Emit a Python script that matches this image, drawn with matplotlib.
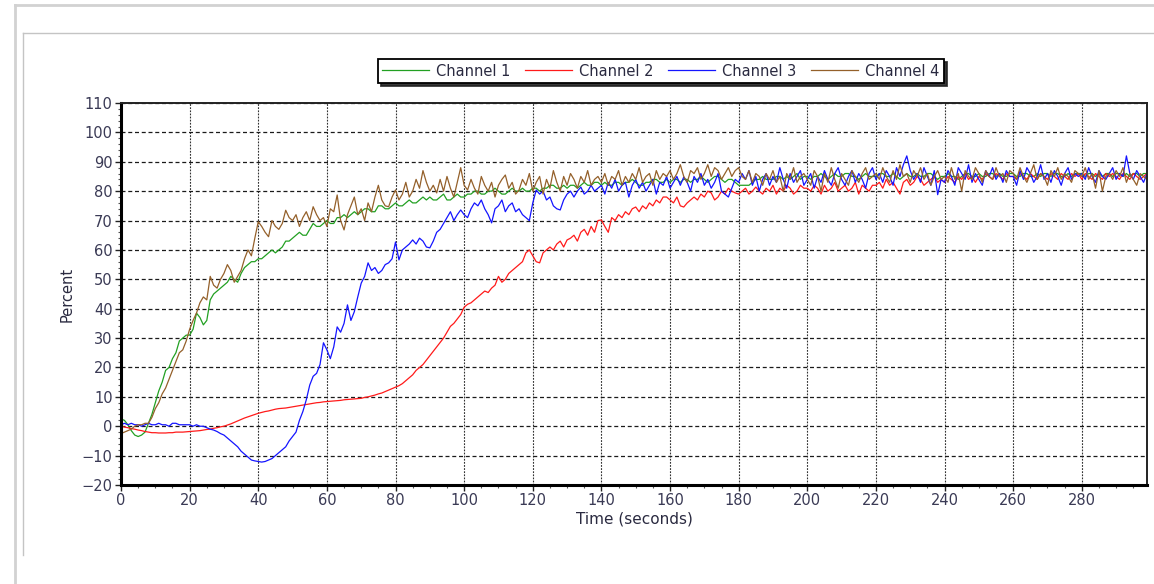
import numpy as np
import matplotlib.pyplot as plt
from matplotlib.lines import Line2D
from matplotlib.ticker import MultipleLocator

# one reading per second, 0..299 s
t = np.arange(300)

channel_1 = [
    2.5, 2, 0.5, -1.5, -3, -3.5, -3, -2, 1, 4, 8, 12, 15, 19, 20, 23, 25, 29, 30, 31,
    31, 33, 38.5, 37, 34.5, 36, 43, 45, 46, 47, 48, 49, 51, 50, 49, 52, 54, 55, 56, 56,
    57, 57, 58, 59, 60, 59, 60, 61, 63, 63, 64, 65, 66, 65, 65, 67, 69, 68, 68, 69,
    70, 69, 69, 71, 71, 72, 71, 72, 73, 72, 73, 74, 74, 73, 73, 75, 75, 74, 74, 75,
    76, 75, 75, 76, 77, 76, 76, 77, 78, 77, 78, 77, 77, 78, 79, 77, 77, 78, 79, 78,
    78, 79, 79, 80, 80, 79, 79, 80, 80, 81, 80, 79, 79, 80, 81, 80, 80, 81, 80, 80,
    81, 81, 80, 81, 81, 82, 82, 81, 81, 82, 81, 82, 82, 81, 82, 83, 82, 82, 83, 83,
    82, 83, 82, 82, 83, 83, 82, 83, 83, 84, 83, 82, 82, 83, 83, 84, 84, 83, 83, 84,
    83, 84, 84, 83, 84, 84, 83, 84, 84, 85, 84, 83, 84, 85, 85, 84, 83, 84, 84, 83,
    82, 82, 82, 82, 83, 84, 84, 85, 84, 84, 84, 85, 85, 84, 85, 84, 85, 86, 84, 85,
    85, 84, 85, 85, 86, 85, 84, 85, 86, 85, 85, 86, 86, 85, 85, 84, 85, 86, 85, 85,
    85, 86, 86, 85, 85, 86, 85, 84, 85, 86, 85, 85, 86, 85, 85, 86, 86, 85, 84, 85,
    85, 86, 85, 85, 84, 85, 86, 86, 85, 85, 86, 85, 85, 86, 86, 85, 86, 85, 85, 86,
    86, 85, 85, 86, 86, 85, 85, 86, 85, 86, 86, 85, 86, 86, 85, 85, 86, 85, 86, 86,
    86, 85, 86, 86, 85, 86, 85, 86, 86, 85, 86, 86, 85, 86, 85, 86, 86, 85, 86, 86,
]

channel_2 = [
    0, -0.3, -0.5, -0.8, -1, -1.3, -1.5, -1.8, -2, -2.2, -2.2, -2.3, -2.3, -2.3, -2.2, -2.2, -2, -2, -2, -1.9,
    -1.8, -1.7, -1.6, -1.5, -1.3, -1.1, -1, -0.7, -0.5, -0.2, 0, 0.4, 0.8, 1.3, 1.8, 2.3, 2.8, 3.2, 3.6, 4,
    4.4, 4.7, 5, 5.2, 5.5, 5.8, 6, 6.1, 6.2, 6.4, 6.6, 6.8, 7, 7.2, 7.4, 7.6, 7.8, 8, 8.1, 8.3,
    8.4, 8.5, 8.6, 8.7, 8.8, 9, 9.1, 9.2, 9.3, 9.4, 9.5, 9.8, 10, 10.3, 10.6, 11, 11.3, 11.8, 12.3, 12.8,
    13.3, 13.8, 14.5, 15.5, 16.5, 17.5, 19, 20, 21, 22.5, 24, 25.5, 27, 28.5, 30, 32, 34, 35, 36.5, 38,
    40.5, 41.5, 42, 43, 44, 45, 46, 45.5, 47, 48, 51, 49, 50, 52, 53, 54, 55, 56, 59, 60,
    58, 56, 55.6, 59, 60, 61, 60, 62, 63, 61, 63.4, 64, 65, 63, 66, 67, 65, 68, 66, 70,
    70.2, 68, 66, 71, 70, 72, 71, 73, 72, 74, 74.6, 73, 75, 74, 76, 75, 77, 76, 78, 78,
    77, 76, 78, 75, 74.6, 76, 77, 78, 77, 79, 78, 80, 79.4, 77, 78, 80, 79, 81, 80, 79.4,
    79, 80, 81, 79, 80, 81.4, 80, 79, 81, 80, 82, 79, 81, 80, 82, 81, 79, 80, 82, 81,
    81, 80, 82, 81, 79, 82, 80, 81, 83, 80, 81, 82, 80, 81, 83, 79, 82, 81, 80, 82,
    82, 83, 81, 84, 82, 83, 81, 79, 83, 84, 82, 83, 85, 84, 82, 83, 84, 85, 83, 84,
    83, 85, 84, 83, 85, 84, 86, 84, 85, 83, 85, 84, 86, 85, 84, 86, 85, 84, 86, 85,
    85, 84, 86, 85, 84, 86, 85, 84, 86, 85, 84, 86, 85, 84, 86, 85, 84, 86, 85, 86,
    84, 86, 85, 84, 86, 85, 84, 86, 85, 86, 85, 84, 86, 85, 84, 86, 85, 84, 85, 86,
]

channel_3 = [
    0.5, 1, 0.5, 1, 0.5, 0.5, 0, 0.5, 1, 0.5, 0.5, 1, 0.5, 0.5, 0, 1, 1, 0.5, 0.5, 0.5,
    0.5, 0, 0.5, 0, 0, -0.5, -1, -1.3, -1.8, -2.5, -3, -4, -5, -6, -7, -8.5, -9.5, -10.5, -11.5, -11.8,
    -12, -12.2, -12, -11.5, -11, -10, -9, -8, -7, -5, -3.5, -2, 2, 5, 9, 14, 17, 18, 21, 28.4,
    26, 23, 27, 33.8, 32, 35, 41.3, 36, 39, 44, 48.7, 51, 55.6, 53, 54, 52, 53, 55, 55.6, 57,
    62.7, 56.6, 60, 61, 62, 63.4, 62, 64, 63, 61, 60.7, 63, 66, 67, 69, 71, 73, 70, 72, 73.6,
    72, 71, 74, 76, 75, 77, 74, 72, 69.2, 74, 75, 77, 73, 75, 76, 73, 74, 72, 71, 70,
    76, 80.4, 79, 80, 77, 78, 75, 74, 73.6, 77, 79, 80, 78, 80, 81.4, 79, 80, 82, 80, 81,
    82, 79, 83, 81, 84, 80, 82, 83, 78, 82, 84, 81, 83, 80, 82, 84, 79, 83, 82, 85,
    81, 83, 85, 82, 84.8, 83, 80, 85, 83, 86, 82, 84, 81, 83, 86, 80, 79, 78, 81, 84,
    83, 86, 84, 87, 82, 85, 80, 84, 86, 82, 85, 83, 88, 84, 81, 86, 83, 85, 87, 82,
    84, 86, 81, 85, 83, 87, 84, 82, 86, 88, 84, 82, 85, 87, 83, 86, 84, 81, 86, 88,
    84, 86, 83, 87, 85, 82, 88, 85, 89, 92, 87, 84, 86, 83, 88, 85, 82, 87, 78.8, 84,
    83, 87, 85, 82, 88, 86, 84, 89, 83, 86, 84, 82, 87, 85, 88, 84, 86, 83, 87, 85,
    85, 82, 87, 84, 88, 86, 83, 85, 89, 84, 86, 83, 87, 85, 82, 86, 88, 84, 86, 85,
    86, 84, 88, 85, 83, 87, 85, 84, 86, 88, 84, 86, 85, 92, 86, 84, 87, 85, 83, 86,
]

channel_4 = [
    -2.5, -2, -1.5, -1, 0, 0.5, 0.5, 1, 1, 3, 6, 8, 11, 13, 16, 19, 22, 25, 26, 29,
    33, 36, 38.5, 42, 44, 43, 51, 48, 47, 50, 52, 55, 53, 49, 51, 53, 57, 60, 58, 64,
    69.6, 68, 66, 64.5, 70, 68, 67, 69, 73.5, 71, 70, 72, 68, 71, 73, 70, 74.7, 72, 70, 71,
    68, 74, 73, 78.7, 70, 66.8, 72, 75, 78, 72, 74, 70, 76, 73, 78, 82, 77, 75, 74.7, 78,
    80.4, 77, 79, 83, 78, 80, 84, 81, 87, 83, 80, 82, 79.4, 84, 80, 85, 81, 78, 83, 88,
    82, 80.4, 84, 81, 79, 85, 82, 80, 83, 78, 82, 84, 85.5, 81, 83, 79, 80.4, 84, 82, 86,
    80, 83, 85, 79, 84, 81, 87, 83, 80, 85, 82, 86, 84, 81, 85, 83, 87, 82, 84, 85,
    83, 86, 82, 85, 84, 87, 82, 85, 83, 86, 84, 88, 83, 85, 86, 82, 87, 84, 86, 85,
    87, 84, 86, 89, 85, 83, 87, 86, 88, 84, 86, 89, 85, 88, 87, 84, 86, 88, 85, 87,
    88, 85, 84, 87, 83, 86, 85, 82, 86, 84, 87, 83, 85, 80, 86, 84, 88, 83, 85, 86,
    84, 82, 87, 85, 80, 86, 83, 88, 84, 81, 86, 84, 82, 87, 85, 83, 86, 88, 84, 85,
    86, 84, 88, 85, 83, 87, 84, 89, 85, 86, 83, 87, 85, 88, 84, 86, 82, 85, 87, 84,
    85, 83, 88, 84, 86, 80, 87, 85, 84, 88, 86, 83, 87, 85, 84, 88, 85, 86, 83, 87,
    86, 84, 88, 85, 83, 86, 89, 84, 86, 85, 82, 87, 85, 88, 84, 86, 85, 83, 87, 86,
    85, 88, 84, 86, 81, 87, 80, 85, 86, 84, 87, 85, 88, 83, 86, 84, 82, 86, 85, 84,
]

names = ['Channel 1', 'Channel 2', 'Channel 3', 'Channel 4']
colors = ['#22a022', '#ff1a1a', '#1414ff', '#94602a']

W, H = 1154, 584
fig = plt.figure(figsize=(W / 100, H / 100), dpi=100)
fig.patch.set_facecolor('white')


def px(x, y):
    return x / W, 1 - y / H


# window frame around the chart panel
for (x0, y0), (x1, y1), c, lw in [
    ((15, 5), (W, 5), '#d2d2d2', 2.0),
    ((15, 5), (15, H), '#d2d2d2', 2.0),
    ((23, 33), (W, 33), '#c4c4c4', 1.0),
    ((23, 33), (23, 555), '#c4c4c4', 1.0),
]:
    a, b = px(x0, y0)
    c2, d = px(x1, y1)
    fig.add_artist(Line2D([a, c2], [b, d], color=c, lw=lw, transform=fig.transFigure))

left, right, top, bottom = 121, 1147, 103, 485
ax = fig.add_axes([left / W, 1 - bottom / H, (right - left) / W, (bottom - top) / H])

for vals, name, col in zip([channel_1, channel_2, channel_3, channel_4], names, colors):
    ax.plot(t, vals, color=col, lw=0.9, label=name)

ax.set_xlim(0, 299)
ax.set_ylim(-20, 110)
ax.xaxis.set_major_locator(MultipleLocator(20))
ax.xaxis.set_minor_locator(MultipleLocator(5))
ax.yaxis.set_major_locator(MultipleLocator(10))
ax.yaxis.set_minor_locator(MultipleLocator(2))

ax.grid(True, axis='y', which='major', color='#1a1a1a', lw=0.9, linestyle=(0, (3.2, 2.2)))
ax.grid(True, axis='x', which='major', color='#333333', lw=0.8, linestyle=(0, (1.6, 1.2)))

ax.tick_params(which='major', direction='out', length=4, width=1, colors='#222222',
               labelsize=10.5, labelcolor='#3a3a55', pad=2)
ax.tick_params(which='minor', direction='out', length=2.5, width=0.8, colors='#555555')

for side in ['left', 'bottom']:
    ax.spines[side].set_linewidth(2.2)
for side in ['top', 'right']:
    ax.spines[side].set_linewidth(1.4)
    ax.spines[side].set_color('#222222')

ax.set_xlabel('Time (seconds)', fontsize=11, color='#2a2a40', labelpad=2)
ax.set_ylabel('Percent', fontsize=10.5, color='#2a2a40', labelpad=5)

leg = ax.legend(loc='center', bbox_to_anchor=(661 / W, 1 - 71 / H),
                bbox_transform=fig.transFigure, ncol=4, fontsize=10.5,
                handlelength=3.2, handletextpad=0.5, columnspacing=1.0,
                borderpad=0.3, frameon=True, fancybox=False,
                shadow={'color': '#222222', 'alpha': 0.9})
leg.get_frame().set_edgecolor('black')
leg.get_frame().set_linewidth(1.3)
for txt in leg.get_texts():
    txt.set_color('#2a2a40')

plt.savefig('out.png', dpi=100)
